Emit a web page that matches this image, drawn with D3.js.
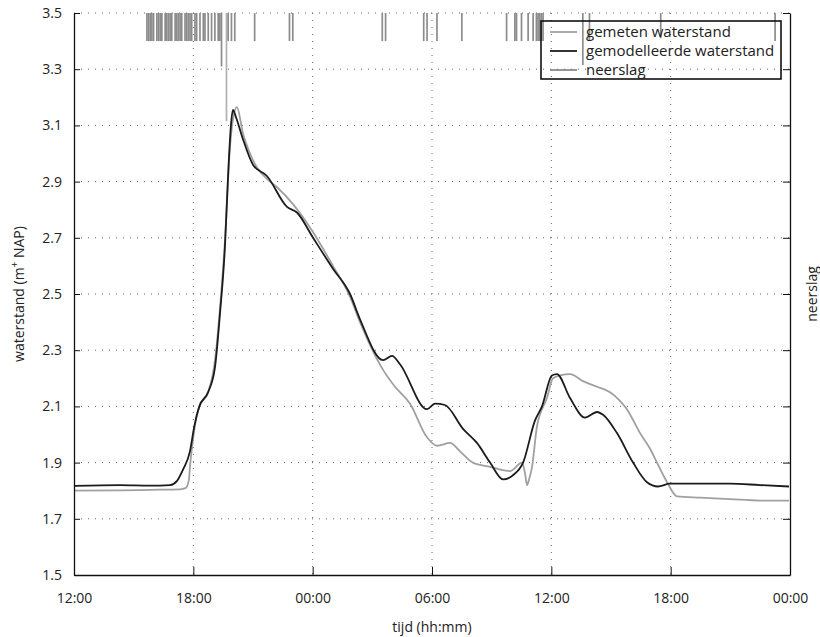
<!DOCTYPE html>
<html><head><meta charset="utf-8">
<script src="https://cdn.jsdelivr.net/npm/d3@7"></script>
<style>
body{margin:0;background:#fff;}
text{font-family:"Open Sans",sans-serif;fill:#222;}
</style></head>
<body><svg id="c" width="820" height="637"></svg>
<script>
// x ticks (hours after 12:00 on day 1)
const xTickHours = [0, 6, 12, 18, 24, 30, 36];
const xTickLabels = ["12:00", "18:00", "00:00", "06:00", "12:00", "18:00", "00:00"];
const yTicks = [1.5, 1.7, 1.9, 2.1, 2.3, 2.5, 2.7, 2.9, 3.1, 3.3, 3.5];

// measured water level: [hour, m NAP]
const gemetenHours = [0, 2.31, 3.82, 5.33, 5.63, 5.78, 5.83, 5.98, 6.18, 6.34, 6.74, 7.09, 7.34, 7.59, 7.84, 8.04, 8.19, 8.50, 8.85, 9.20, 9.70, 10.21, 11.01, 12.02, 13.02, 13.88, 14.38, 15.54, 16.14, 16.89, 17.75, 18.25, 18.91, 19.41, 20.06, 20.92, 21.92, 22.53, 22.68, 22.78, 22.88, 23.03, 23.28, 23.78, 24.08, 24.44, 24.94, 25.59, 26.30, 26.95, 27.45, 27.80, 28.46, 28.96, 29.31, 29.82, 30.32, 31.48, 32.98, 34.49, 35.95];
const gemetenValues = [1.800, 1.801, 1.803, 1.805, 1.81, 1.84, 1.885, 1.98, 2.07, 2.105, 2.15, 2.265, 2.45, 2.69, 3.02, 3.14, 3.165, 3.07, 3.00, 2.95, 2.91, 2.88, 2.82, 2.72, 2.60, 2.49, 2.40, 2.23, 2.17, 2.11, 1.99, 1.96, 1.97, 1.94, 1.90, 1.885, 1.87, 1.90, 1.86, 1.82, 1.84, 1.885, 2.03, 2.13, 2.20, 2.21, 2.215, 2.19, 2.17, 2.15, 2.12, 2.09, 2.005, 1.95, 1.90, 1.83, 1.78, 1.775, 1.77, 1.765, 1.765];

// modelled water level
const modelHours = [0, 2.31, 3.82, 4.83, 5.18, 5.48, 5.83, 6.05, 6.30, 6.74, 7.09, 7.34, 7.59, 7.74, 7.89, 7.99, 8.14, 8.50, 9.00, 9.70, 10.71, 11.21, 12.02, 13.02, 13.88, 14.38, 15.54, 15.99, 16.39, 17.75, 18.15, 18.65, 19.56, 20.26, 20.92, 21.57, 22.07, 22.58, 23.18, 23.53, 24.03, 24.28, 24.94, 25.69, 26.30, 26.60, 27.30, 28.11, 28.81, 29.36, 29.97, 31.48, 32.98, 34.49, 35.95];
const modelValues = [1.817, 1.82, 1.818, 1.82, 1.835, 1.875, 1.94, 2.03, 2.10, 2.15, 2.24, 2.43, 2.67, 2.91, 3.10, 3.155, 3.13, 3.05, 2.96, 2.92, 2.81, 2.79, 2.70, 2.59, 2.50, 2.41, 2.265, 2.28, 2.25, 2.09, 2.11, 2.105, 2.02, 1.97, 1.90, 1.84, 1.855, 1.90, 2.05, 2.10, 2.21, 2.215, 2.13, 2.06, 2.08, 2.07, 2.005, 1.90, 1.83, 1.815, 1.825, 1.825, 1.825, 1.82, 1.815];

// rainfall: minutes after 12:00, mm per interval
const rainMinutes = [220, 225, 230, 235, 240, 250, 255, 260, 265, 275, 280, 285, 290, 295, 305, 310, 315, 320, 325, 335, 340, 345, 350, 355, 365, 370, 380, 390, 395, 405, 415, 425, 435, 440, 445, 460, 465, 475, 485, 545, 650, 660, 930, 940, 1055, 1065, 1095, 1170, 1305, 1330, 1335, 1350, 1370, 1385, 1395, 1400, 1405, 1410, 1415, 1535, 1555, 1770, 2115];
const rainValues = [0.1, 0.1, 0.1, 0.1, 0.1, 0.1, 0.1, 0.1, 0.1, 0.1, 0.1, 0.1, 0.1, 0.1, 0.1, 0.1, 0.1, 0.1, 0.1, 0.1, 0.1, 0.1, 0.1, 0.1, 0.1, 0.1, 0.1, 0.1, 0.1, 0.1, 0.1, 0.1, 0.1, 0.1, 0.19, 0.385, 0.1, 0.1, 0.1, 0.1, 0.1, 0.1, 0.1, 0.1, 0.1, 0.1, 0.1, 0.1, 0.1, 0.1, 0.1, 0.1, 0.1, 0.1, 0.1, 0.1, 0.1, 0.1, 0.1, 0.185, 0.1, 0.09, 0.1];

const legendLabels = ["gemeten waterstand", "gemodelleerde waterstand", "neerslag"];

const W = 820, H = 637;
const m = {left: 74, right: 30, top: 13, bottom: 62};
const svg = d3.select("#c");
const x = d3.scaleLinear().domain([0, 36]).range([m.left, W - m.right]);
const y = d3.scaleLinear().domain([1.5, 3.5]).range([H - m.bottom, m.top]);
const rainY = d3.scaleLinear().domain([0, 2]).range([m.top, H - m.bottom]);

const cGem = "#a0a0a0", cMod = "#1c1c1c", cRain = "#8c8c8c";

// grid
const grid = svg.append("g").attr("stroke", "#666").attr("stroke-width", 1).attr("stroke-dasharray", "1,6");
grid.selectAll(".gy").data(yTicks.filter(d => d > 1.5)).join("line")
  .attr("x1", m.left).attr("x2", W - m.right).attr("y1", d => y(d)).attr("y2", d => y(d));
grid.selectAll(".gx").data(xTickHours.slice(1, -1)).join("line")
  .attr("x1", d => x(d)).attr("x2", d => x(d)).attr("y1", m.top).attr("y2", H - m.bottom);

// rain bars
const rainData = rainMinutes.map((mm, i) => ({t: mm / 60, v: rainValues[i]}));
svg.append("g").selectAll("line").data(rainData).join("line")
  .attr("x1", d => x(d.t)).attr("x2", d => x(d.t))
  .attr("y1", rainY(0)).attr("y2", d => rainY(d.v))
  .attr("stroke", d => d.v > 0.3 ? "#b0b0b0" : cRain).attr("stroke-width", 1.7);

// lines
const line = d3.line().x(d => x(d[0])).y(d => y(d[1])).curve(d3.curveMonotoneX);
svg.append("path").datum(gemetenHours.map((h, i) => [h, gemetenValues[i]]))
  .attr("d", line).attr("fill", "none").attr("stroke", cGem).attr("stroke-width", 1.8);
svg.append("path").datum(modelHours.map((h, i) => [h, modelValues[i]]))
  .attr("d", line).attr("fill", "none").attr("stroke", cMod).attr("stroke-width", 1.8);

// axes
const fmt = d3.format(".1f");
const yAxis = svg.append("g").attr("transform", `translate(${m.left},0)`)
  .call(d3.axisLeft(y).tickValues(yTicks).tickFormat(fmt).tickSizeInner(-6).tickSizeOuter(0).tickPadding(12));
const xAxis = svg.append("g").attr("transform", `translate(0,${H - m.bottom})`)
  .call(d3.axisBottom(x).tickValues(xTickHours).tickFormat((d, i) => xTickLabels[i]).tickSizeInner(-8).tickSizeOuter(0).tickPadding(18));
const rAxis = svg.append("g").attr("transform", `translate(${W - m.right},0)`)
  .call(d3.axisRight(y).tickValues(yTicks).tickFormat("").tickSizeInner(-7).tickSizeOuter(0));
[yAxis, xAxis, rAxis].forEach(a => {
  a.selectAll("path").attr("stroke", "#111").attr("stroke-width", 1.3);
  a.selectAll("line").attr("stroke", "#111").attr("stroke-width", 1);
  a.selectAll("text").attr("font-size", 14).attr("font-family", "Open Sans").attr("fill", "#222");
});

// axis titles
svg.append("text").attr("x", (m.left + W - m.right) / 2).attr("y", 632).attr("text-anchor", "middle")
  .attr("font-size", 14).text("tijd (hh:mm)");
const yt = svg.append("text").attr("transform", `translate(24,${(m.top + H - m.bottom) / 2}) rotate(-90)`)
  .attr("text-anchor", "middle").attr("font-size", 14);
yt.append("tspan").text("waterstand (m");
yt.append("tspan").attr("dy", -6).attr("font-size", 10).text("+");
yt.append("tspan").attr("dy", 6).text(" NAP)");
svg.append("text").attr("transform", `translate(817,${(m.top + H - m.bottom) / 2}) rotate(-90)`)
  .attr("text-anchor", "middle").attr("font-size", 14).text("neerslag");

// legend
const lg = svg.append("g").attr("transform", "translate(541,21)");
lg.append("rect").attr("width", 240).attr("height", 58).attr("fill", "none").attr("stroke", "#111").attr("stroke-width", 1.6);
const lc = [cGem, cMod, cRain];
legendLabels.forEach((t, i) => {
  const yy = 11 + i * 19;
  lg.append("line").attr("x1", 9).attr("x2", 36).attr("y1", yy).attr("y2", yy).attr("stroke", lc[i]).attr("stroke-width", 1.8);
  lg.append("text").attr("x", 45).attr("y", yy + 5).attr("font-size", 15).text(t);
});
</script></body></html>
